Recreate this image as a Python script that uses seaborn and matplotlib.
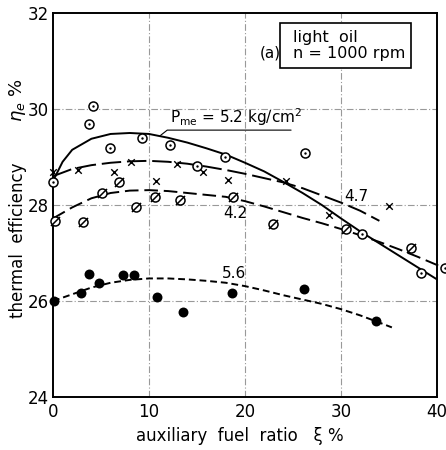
import numpy as np
import pandas as pd
import matplotlib
matplotlib.use("Agg")
import matplotlib.pyplot as plt
from matplotlib.path import Path
from matplotlib.patches import Rectangle
import seaborn as sns

# ---- data ----
# Pme = 5.2 (circle with dot)
x52 = [0.0, 3.75, 4.2, 5.9, 9.3, 12.2, 15.0, 17.9, 26.3, 32.2, 38.3, 40.8]
y52 = [28.48, 29.69, 30.06, 29.19, 29.39, 29.25, 28.82, 29.0, 29.09, 27.39, 26.59, 26.69]
cx52 = [0, 1, 2, 4, 6, 8, 10, 12, 14, 16, 18, 20, 22, 24, 26, 28, 30, 32, 34, 36, 38, 40]
cy52 = [28.5, 28.9, 29.15, 29.38, 29.48, 29.5, 29.48, 29.4, 29.3, 29.18, 29.05, 28.88,
        28.7, 28.48, 28.25, 28.0, 27.72, 27.45, 27.2, 26.95, 26.7, 26.45]

# Pme = 4.7 (crosses)
x47 = [0.0, 2.57, 6.35, 8.1, 10.7, 12.9, 15.6, 18.2, 24.3, 28.8, 35.0]
y47 = [28.69, 28.73, 28.69, 28.9, 28.49, 28.85, 28.69, 28.52, 28.51, 27.8, 27.98]
cx47 = [0, 2, 4, 6, 8, 10, 12, 14, 16, 18, 20, 22, 24, 26, 28, 30, 32, 34]
cy47 = [28.6, 28.75, 28.83, 28.88, 28.91, 28.92, 28.9, 28.86, 28.8, 28.73, 28.65,
        28.56, 28.47, 28.35, 28.2, 28.05, 27.88, 27.67]

# Pme = 4.2 (circle with slash)
x42 = [0.2, 3.1, 5.1, 6.9, 8.65, 10.6, 13.2, 18.8, 22.95, 30.5, 37.3]
y42 = [27.67, 27.65, 28.26, 28.47, 27.96, 28.17, 28.1, 28.16, 27.6, 27.5, 27.1]
cx42 = [0, 2, 4, 6, 8, 10, 12, 14, 16, 18, 20, 22, 24, 26, 28, 30, 32, 34, 36, 38, 40, 40.6]
cy42 = [27.72, 27.95, 28.14, 28.25, 28.3, 28.31, 28.29, 28.25, 28.21, 28.17, 28.08,
        27.97, 27.85, 27.73, 27.62, 27.5, 27.37, 27.23, 27.08, 26.92, 26.75, 26.71]

# Pme = 5.6 (filled dots)
x56 = [0.1, 2.9, 3.75, 4.8, 7.26, 8.44, 10.8, 13.5, 18.65, 26.1, 33.6]
y56 = [25.99, 26.16, 26.56, 26.37, 26.54, 26.54, 26.08, 25.78, 26.16, 26.26, 25.58]
cx56 = [0, 2, 4, 6, 8, 10, 12, 14, 16, 18, 20, 22, 24, 26, 28, 30, 32, 34, 35.3]
cy56 = [26.0, 26.14, 26.28, 26.38, 26.44, 26.47, 26.47, 26.45, 26.42, 26.38, 26.31,
        26.22, 26.12, 26.03, 25.94, 25.83, 25.7, 25.55, 25.45]

xticks = [0, 10, 20, 30, 40]
yticks = [24, 26, 28, 30, 32]

sns.set_theme(style="white")
plt.rcParams['font.family'] = ['DejaVu Sans']

fig = plt.figure(figsize=(4.46, 4.50), dpi=100)
ax = fig.add_axes([53/446, 1-397/450, (437-53)/446, (397-13)/450])

# grid
for gx in [10, 20, 30]:
    ax.axvline(gx, color="#999999", lw=0.8, ls=(0, (6, 2, 1, 2)), zorder=0)
for gy in [26, 28, 30]:
    ax.axhline(gy, color="#999999", lw=0.8, ls=(0, (6, 2, 1, 2)), zorder=0)

k = "black"
sns.lineplot(x=cx52, y=cy52, ax=ax, color=k, lw=1.4, sort=False, estimator=None)
sns.lineplot(x=cx47, y=cy47, ax=ax, color=k, lw=1.4, sort=False, estimator=None,
             linestyle=(0, (10, 3)))
sns.lineplot(x=cx42, y=cy42, ax=ax, color=k, lw=1.4, sort=False, estimator=None,
             linestyle=(0, (7, 3)))
sns.lineplot(x=cx56, y=cy56, ax=ax, color=k, lw=1.4, sort=False, estimator=None,
             linestyle=(0, (3.5, 2)))
for ln in ax.lines:
    ln.set_clip_on(False)

ms = 6.5
slash = Path([(-0.7, -0.7), (0.7, 0.7)], [Path.MOVETO, Path.LINETO])
# 5.2 circle with dot
sns.scatterplot(x=x52, y=y52, ax=ax, marker="o", s=ms**2, facecolor="white",
                edgecolor=k, linewidth=1.1, zorder=5, clip_on=False)
sns.scatterplot(x=x52, y=y52, ax=ax, marker="o", s=3, color=k, edgecolor=k,
                linewidth=0, zorder=6, clip_on=False)
# 4.7 crosses
sns.scatterplot(x=x47, y=y47, ax=ax, marker="x", s=22, color=k, edgecolor=k,
                linewidth=1.0, zorder=5, clip_on=False)
# 4.2 circle with slash
sns.scatterplot(x=x42, y=y42, ax=ax, marker="o", s=ms**2, facecolor="white",
                edgecolor=k, linewidth=1.1, zorder=5, clip_on=False)
sns.scatterplot(x=x42, y=y42, ax=ax, marker=slash, s=ms**2, color=k, edgecolor=k,
                linewidth=1.1, zorder=6, clip_on=False)
# 5.6 filled
sns.scatterplot(x=x56, y=y56, ax=ax, marker="o", s=(ms * 1.1)**2, color=k,
                edgecolor=k, linewidth=0, zorder=5, clip_on=False)

ax.set_xlim(0, 40)
ax.set_ylim(24, 32)
ax.set_xticks(xticks)
ax.set_yticks(yticks)
ax.tick_params(axis="y", length=0, labelsize=12, colors=k, pad=3)
ax.tick_params(axis="x", length=0, labelsize=12, colors=k, pad=4)
for s in ax.spines.values():
    s.set_color(k)
    s.set_linewidth(1.4)
ax.set_xlabel("")
ax.set_ylabel("")

# labels
ax.text(12.2, 29.6, r"P$_{\mathrm{me}}$ = 5.2 kg/cm$^2$", fontsize=11, ha="left",
        va="bottom", color=k)
ax.plot([11.2, 11.9, 24.8], [29.45, 29.56, 29.56], color=k, lw=0.8, clip_on=False)
ax.text(31.6, 28.17, "4.7", fontsize=11, ha="center", va="center", color=k)
ax.text(19.0, 27.83, "4.2", fontsize=11, ha="center", va="center", color=k)
ax.text(18.9, 26.58, "5.6", fontsize=11, ha="center", va="center", color=k)
ax.text(22.6, 31.17, "(a)", fontsize=11, ha="center", va="center", color=k)
ax.add_patch(Rectangle((23.6, 30.85), 13.7, 0.94, facecolor="white", edgecolor=k,
                       lw=1.2, zorder=4))
ax.text(25.0, 31.48, "light  oil", fontsize=11.5, ha="left", va="center", color=k, zorder=5)
ax.text(25.0, 31.15, "n = 1000 rpm", fontsize=11.5, ha="left", va="center", color=k, zorder=5)

fig.text(240/446, 1-436/450, "auxiliary  fuel  ratio   ξ %", fontsize=12,
         ha="center", va="center", color=k)
fig.text(18/446, 1-240/450, "thermal  efficiency", fontsize=12, rotation=90,
         ha="center", va="center", color=k)
fig.text(18/446, 1-100/450, r"$\eta_e$ %", fontsize=13, rotation=90,
         ha="center", va="center", color=k)

fig.savefig("out.png", dpi=100, facecolor="white")
